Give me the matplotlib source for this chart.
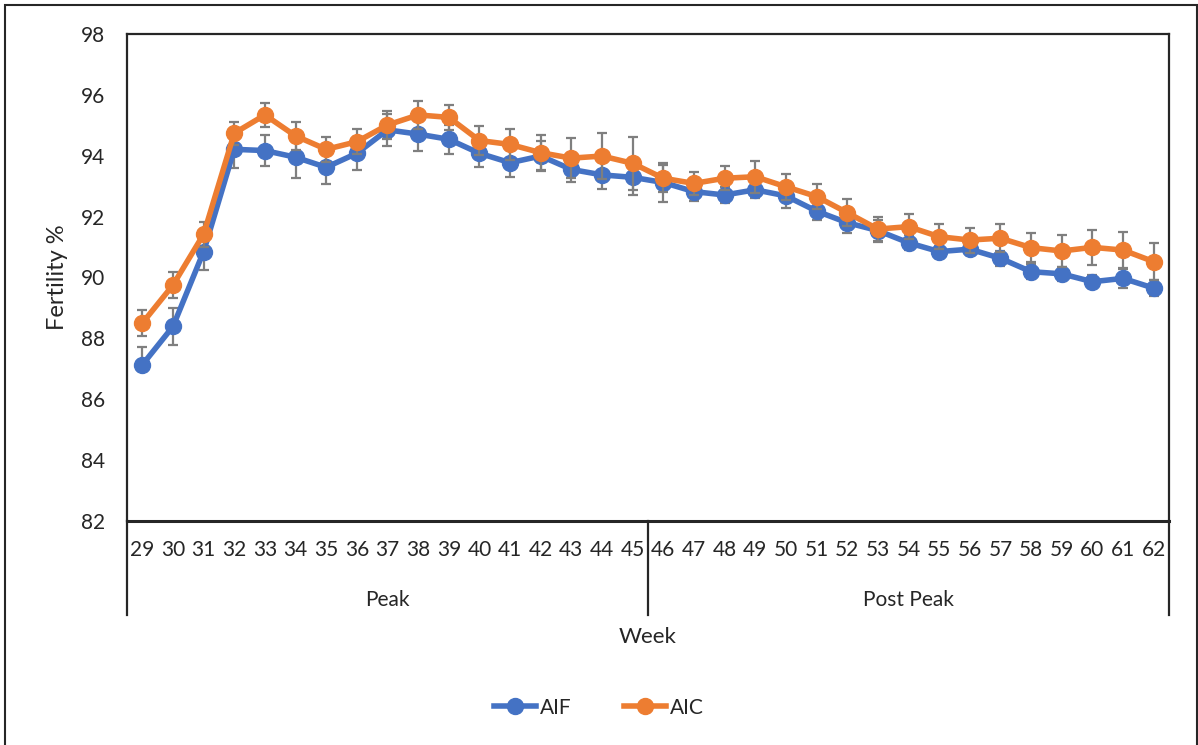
import matplotlib.pyplot as plt
import matplotlib.patches as patches
import matplotlib.transforms as transforms
import numpy as np

# weekly fertility (%) with error bar half-widths
weeks = list(range(29, 63))
aif = [87.13, 88.39, 90.85, 94.21, 94.17, 93.95, 93.62, 94.08, 94.85, 94.71,
       94.54, 94.08, 93.77, 93.99, 93.55, 93.37, 93.29, 93.12, 92.82, 92.71,
       92.88, 92.68, 92.18, 91.80, 91.54, 91.14, 90.85, 90.93, 90.63, 90.19,
       90.12, 89.86, 89.97, 89.65]
aif_err_hi = [0.60, 0.62, 0.60, 0.62, 0.50, 0.69, 0.56, 0.55, 0.53, 0.54,
              0.48, 0.44, 0.46, 0.48, 0.40, 0.47, 0.58, 0.63, 0.30, 0.25,
              0.28, 0.39, 0.30, 0.33, 0.34, 0.25, 0.20, 0.20, 0.25, 0.25,
              0.23, 0.21, 0.30, 0.26]
aif_err_lo = [0.00] + aif_err_hi[1:]
aic = [88.50, 89.75, 91.42, 94.74, 95.34, 94.65, 94.21, 94.46, 95.01, 95.34,
       95.26, 94.50, 94.37, 94.10, 93.92, 93.99, 93.75, 93.26, 93.09, 93.26,
       93.31, 92.98, 92.66, 92.13, 91.59, 91.67, 91.34, 91.23, 91.29, 90.98,
       90.87, 90.99, 90.90, 90.52]
aic_err = [0.43, 0.42, 0.41, 0.38, 0.40, 0.45, 0.40, 0.41, 0.47, 0.46,
           0.41, 0.49, 0.52, 0.58, 0.65, 0.77, 0.88, 0.44, 0.39, 0.40,
           0.53, 0.42, 0.40, 0.44, 0.41, 0.42, 0.42, 0.41, 0.46, 0.47,
           0.53, 0.57, 0.60, 0.60]
groups = ["Peak", "Post Peak"]
group_sizes = [17, 17]

plt.rcParams['font.family'] = ['Lato', 'DejaVu Sans']
plt.rcParams['font.size'] = 15
txt = '#262626'

fig = plt.figure(figsize=(11.98, 7.45), dpi=100)
ax = fig.add_axes([0.106, 0.3007, 0.8698, 0.6537])

x = np.arange(len(weeks))
blue, orange, grey = '#4472C4', '#ED7D31', '#7F7F7F'

ax.errorbar(x, aif, yerr=[aif_err_lo, aif_err_hi], fmt='none', ecolor=grey,
            elinewidth=1.6, capsize=3.4, capthick=1.6, zorder=2)
ax.plot(x, aif, '-o', color=blue, lw=4, ms=11.5, label='AIF', zorder=3)
ax.errorbar(x, aic, yerr=aic_err, fmt='none', ecolor=grey, elinewidth=1.6,
            capsize=3.4, capthick=1.6, zorder=4)
ax.plot(x, aic, '-o', color=orange, lw=4, ms=11.5, label='AIC', zorder=5)

ax.set_xlim(-0.5, len(weeks) - 0.5)
ax.set_ylim(82, 98)
ax.set_yticks(np.arange(82, 99, 2))
ax.set_xticks(x)
ax.set_xticklabels([str(w) for w in weeks])
ax.tick_params(axis='both', length=0, colors=txt, labelsize=15)
ax.tick_params(axis='x', pad=14)
ax.tick_params(axis='y', pad=16)
for s in ax.spines.values():
    s.set_color('#262626')
    s.set_linewidth(1.6)
ax.spines['bottom'].set_linewidth(2.2)

ax.set_ylabel('Fertility %', color=txt, fontsize=17, labelpad=9)

# category groups under the week labels
trans = transforms.blended_transform_factory(ax.transData, ax.transAxes)
bounds = np.concatenate([[0], np.cumsum(group_sizes)]) - 0.5
for b in bounds:
    ax.plot([b, b], [0, -0.193], color='#262626', lw=1.6, transform=trans,
            clip_on=False)
for name, a, b in zip(groups, bounds[:-1], bounds[1:]):
    ax.text((a + b) / 2, -0.162, name, transform=trans, ha='center',
            va='center', color=txt, fontsize=15)

ax.text(bounds[1], -0.238, 'Week', transform=trans, ha='center', va='center',
        color=txt, fontsize=16)

fig.legend(loc='center', bbox_to_anchor=(0.5, 0.05), ncol=2, frameon=False,
           handlelength=2.0, handletextpad=0.2, columnspacing=2.5,
           labelcolor=txt, fontsize=15)

# outer frame
fig.patches.append(patches.Rectangle((5 / 1198, -0.02), 1192 / 1198, 1.02 - 5 / 745,
                                     transform=fig.transFigure, fill=False,
                                     edgecolor='#262626', lw=1.5))

fig.savefig('out.png', dpi=100)
